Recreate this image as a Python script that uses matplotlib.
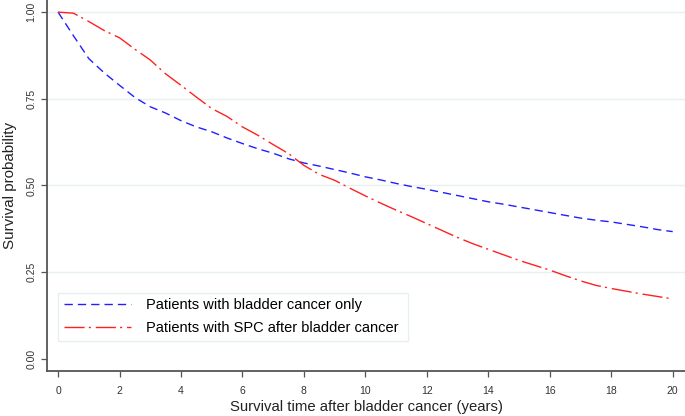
import matplotlib
matplotlib.use("Agg")
import matplotlib.pyplot as plt
import numpy as np

# Kaplan-Meier survival estimates, every half year
years = [i * 0.5 for i in range(41)]

bladder_only = [1.000, 0.932, 0.866, 0.825, 0.789, 0.754, 0.727, 0.709, 0.687, 0.669,
                0.655, 0.637, 0.621, 0.606, 0.593, 0.577, 0.565, 0.556, 0.546, 0.536,
                0.525, 0.516, 0.506, 0.497, 0.489, 0.480, 0.471, 0.462, 0.453, 0.446,
                0.438, 0.430, 0.422, 0.414, 0.406, 0.400, 0.395, 0.388, 0.381, 0.373,
                0.367]

spc_after = [1.000, 0.997, 0.973, 0.947, 0.926, 0.893, 0.862, 0.822, 0.789, 0.755,
             0.722, 0.699, 0.669, 0.645, 0.618, 0.592, 0.558, 0.532, 0.515, 0.492,
             0.470, 0.449, 0.429, 0.410, 0.390, 0.370, 0.350, 0.332, 0.316, 0.300,
             0.284, 0.270, 0.256, 0.240, 0.225, 0.212, 0.203, 0.195, 0.187, 0.180,
             0.173]

labels = ["Patients with bladder cancer only", "Patients with SPC after bladder cancer"]
x_ticks = list(range(0, 21, 2))
y_ticks = [0.0, 0.25, 0.5, 0.75, 1.0]
y_ticklabels = ["0.00", "0.25", "0.50", "0.75", "1.00"]

plt.rcParams['font.family'] = ['Liberation Sans', 'DejaVu Sans']

fig = plt.figure(figsize=(6.85, 4.16), dpi=100)
ax = fig.add_axes([47 / 685, 45 / 416, 638 / 685, 371 / 416])

for y in [0.25, 0.5, 0.75, 1.0]:
    ax.axhline(y, color='#e8f0f2', lw=1.0, zorder=0)

ax.plot(years, bladder_only, color='#2020ff', lw=1.0, dashes=(6, 3.6), label=labels[0])
ax.plot(years, spc_after, color='#ff2020', lw=1.0, dashes=(14.5, 3, 1.5, 3.5), label=labels[1])

ax.set_xlim(-0.36, 20.4)
ax.set_ylim(-0.035, 1.035)
ax.set_xticks(x_ticks)
ax.set_xticklabels([str(t) for t in x_ticks], fontsize=7.5, color='#333333')
ax.set_yticks(y_ticks)
ax.set_yticklabels(y_ticklabels, fontsize=7.5, color='#333333', rotation=90, va='center')

for side in ['top', 'right']:
    ax.spines[side].set_visible(False)
for side in ['left', 'bottom']:
    ax.spines[side].set_color('#555555')
    ax.spines[side].set_linewidth(1.3)
ax.tick_params(axis='both', direction='out', length=4.5, width=0.9, color='#555555')
ax.tick_params(axis='x', pad=6)
ax.tick_params(axis='y', pad=3)

ax.set_xlabel('Survival time after bladder cancer (years)', fontsize=10.7, color='#222222', labelpad=3.5)
ax.set_ylabel('Survival probability', fontsize=10.9, color='#222222', labelpad=7)

leg = ax.legend(loc='lower left', bbox_to_anchor=(11 / 638, 30 / 371, 350 / 638, 58 / 371),
                mode='expand', fontsize=10.5, handlelength=4.6, handletextpad=1.0,
                borderaxespad=0, frameon=True, fancybox=False, labelspacing=0.6)
leg.get_frame().set_edgecolor('#e3ecee')
leg.get_frame().set_linewidth(1.0)

fig.savefig('out.png', dpi=100)
